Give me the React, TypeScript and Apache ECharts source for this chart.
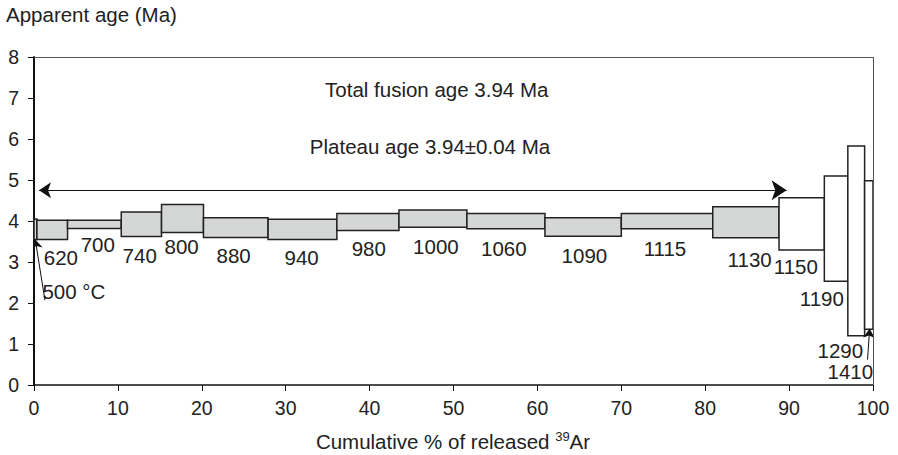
import React, { useEffect, useRef } from "react";
import * as echarts from "echarts";

const stepLabels = ["500 °C", "620", "700", "740", "800", "880", "940", "980", "1000", "1060", "1090", "1115", "1130", "1150", "1190", "1290", "1410"];
const cumStart = [0, 0.35, 4.0, 10.4, 15.2, 20.2, 27.9, 36.1, 43.5, 51.6, 60.9, 70.0, 80.9, 88.8, 94.2, 97.0, 99.0];
const cumEnd = [0.35, 4.0, 10.4, 15.2, 20.2, 27.9, 36.1, 43.5, 51.6, 60.9, 70.0, 80.9, 88.8, 94.2, 97.0, 99.0, 100];
const ageHigh = [4.05, 4.02, 4.02, 4.22, 4.4, 4.08, 4.04, 4.18, 4.27, 4.18, 4.08, 4.18, 4.35, 4.57, 5.1, 5.83, 4.98];
const ageLow = [3.55, 3.55, 3.82, 3.62, 3.72, 3.6, 3.55, 3.77, 3.85, 3.81, 3.63, 3.81, 3.59, 3.29, 2.53, 1.2, 1.36];
const inPlateau = [true, true, true, true, true, true, true, true, true, true, true, true, true, false, false, false, false];

// annotation anchor points for step labels (data coords)
const labelX = [1.0, 3.2, 7.6, 12.6, 17.6, 23.8, 31.9, 39.9, 47.9, 56.0, 65.6, 75.2, 85.3, 90.8, 93.9, 96.1, 97.3];
const labelY = [2.27, 3.1, 3.42, 3.15, 3.37, 3.15, 3.1, 3.32, 3.37, 3.32, 3.15, 3.34, 3.07, 2.88, 2.12, 0.83, 0.32];

const totalFusionText = "Total fusion age 3.94 Ma";
const plateauText = "Plateau age 3.94\u00b10.04 Ma";
const plateauRange = [0.6, 89.7];
const plateauArrowY = 4.75;

const FONT = "'Liberation Sans', Arial, Helvetica, sans-serif";
const TICK_FS = 19.5;
const TEXT_FS = 20.5;

export default function App() {
  const ref = useRef<HTMLDivElement>(null);
  useEffect(() => {
    if (!ref.current) return;
    const chart = echarts.init(ref.current, null, { renderer: "svg" });
    const boxData = stepLabels.map((_, i) => [cumStart[i], cumEnd[i], ageLow[i], ageHigh[i], inPlateau[i] ? 1 : 0]);
    const labelData = stepLabels.map((t, i) => [labelX[i], labelY[i], t]);
    const option: any = {
      animation: false,
      textStyle: { fontFamily: FONT },
      grid: { left: 34, right: 25, top: 57, bottom: 70, containLabel: false, outerBoundsMode: "none" },
      xAxis: {
        type: "value",
        min: 0,
        max: 100,
        interval: 10,
        axisLine: { lineStyle: { color: "#111", width: 1.5 } },
        axisTick: { show: true, length: 6, lineStyle: { color: "#111", width: 1 } },
        axisLabel: { fontSize: TICK_FS, color: "#222", margin: 13, fontFamily: FONT },
        splitLine: { show: false },
      },
      yAxis: {
        type: "value",
        min: 0,
        max: 8,
        interval: 1,
        axisLine: { show: true, lineStyle: { color: "#111", width: 2 } },
        axisTick: { show: true, length: 6, lineStyle: { color: "#111", width: 1 } },
        axisLabel: { fontSize: TICK_FS, color: "#222", margin: 15, fontFamily: FONT },
        splitLine: { show: false },
      },
      graphic: [
        {
          type: "text",
          left: 6,
          top: 4,
          style: { text: "Apparent age (Ma)", fontSize: TEXT_FS, fill: "#222", fontFamily: FONT },
        },
        {
          type: "text",
          x: 453,
          y: 441,
          style: {
            text: "Cumulative % of released {sup|39}Ar",
            fontSize: TEXT_FS,
            fill: "#222",
            fontFamily: FONT,
            align: "center",
            verticalAlign: "middle",
            rich: {
              sup: { fontSize: 13, fill: "#222", fontFamily: FONT, verticalAlign: "bottom", padding: [0, 0, 10, 0] },
            },
          },
        },
      ],
      series: [
        {
          type: "custom",
          data: boxData,
          encode: { x: [0, 1], y: [2, 3] },
          renderItem: (params: any, api: any) => {
            const p1 = api.coord([api.value(0), api.value(3)]);
            const p2 = api.coord([api.value(1), api.value(2)]);
            const plateau = api.value(4) === 1;
            return {
              type: "rect",
              shape: { x: p1[0], y: p1[1], width: p2[0] - p1[0], height: p2[1] - p1[1] },
              style: { fill: plateau ? "#d5d7d6" : "#ffffff", stroke: "#222", lineWidth: 1.5 },
            };
          },
          markLine: {
            silent: true,
            symbol: "none",
            label: { show: false },
            lineStyle: { color: "#555", width: 1, type: "solid" },
            data: [{ yAxis: 8 }, { xAxis: 100 }],
          },
          z: 2,
        },
        {
          type: "custom",
          data: labelData,
          encode: { x: 0, y: 1 },
          renderItem: (params: any, api: any) => {
            const p = api.coord([api.value(0), api.value(1)]);
            const idx = params.dataIndex;
            return {
              type: "text",
              x: p[0],
              y: p[1],
              style: {
                text: stepLabels[idx],
                fontSize: TEXT_FS,
                fill: "#222",
                fontFamily: FONT,
                align: idx === 0 ? "left" : "center",
                verticalAlign: "middle",
              },
            };
          },
          z: 3,
        },
        {
          type: "custom",
          data: [
            [48.0, 7.2, totalFusionText],
            [47.2, 5.81, plateauText],
          ],
          encode: { x: 0, y: 1 },
          renderItem: (params: any, api: any) => {
            const p = api.coord([api.value(0), api.value(1)]);
            return {
              type: "text",
              x: p[0],
              y: p[1],
              style: {
                text: params.dataIndex === 0 ? totalFusionText : plateauText,
                fontSize: TEXT_FS,
                fill: "#222",
                fontFamily: FONT,
                align: "center",
                verticalAlign: "middle",
              },
            };
          },
          z: 3,
        },
        {
          type: "lines",
          coordinateSystem: "cartesian2d",
          symbol: ["arrow", "arrow"],
          symbolSize: [12, 15],
          lineStyle: { color: "#111", width: 1.2, opacity: 1 },
          data: [
            { coords: [[plateauRange[0], plateauArrowY], [plateauRange[1], plateauArrowY]] },
          ],
          z: 4,
        },
        {
          type: "lines",
          coordinateSystem: "cartesian2d",
          symbol: ["none", "arrow"],
          symbolSize: 9,
          lineStyle: { color: "#111", width: 1, opacity: 1 },
          data: [
            { coords: [[1.3, 2.07], [0.15, 3.55]] },
            { coords: [[99.35, 0.62], [99.6, 1.37]] },
          ],
          z: 4,
        },
      ],
    };
    chart.setOption(option);
    return () => chart.dispose();
  }, []);
  return <div ref={ref} style={{ position: "absolute", left: 0, top: 0, width: 898, height: 455 }} />;
}
